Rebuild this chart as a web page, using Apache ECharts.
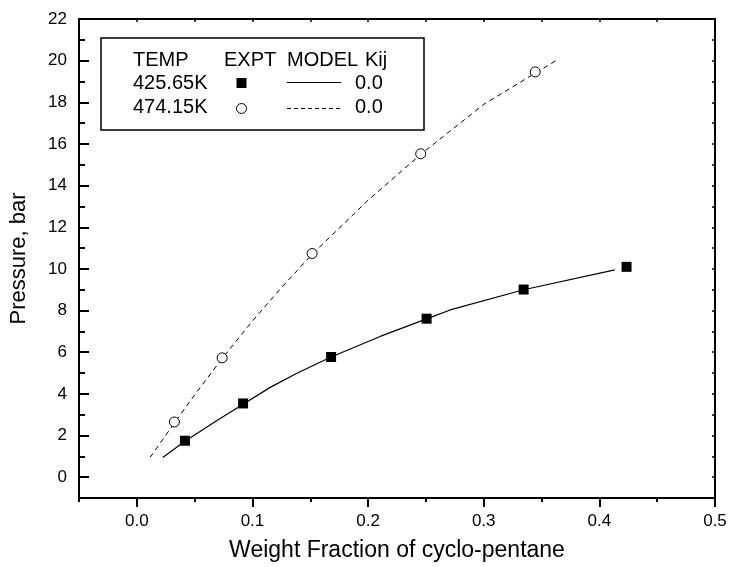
<!DOCTYPE html>
<html>
<head>
<meta charset="utf-8">
<title>Pressure vs weight fraction of cyclo-pentane</title>
<script src="https://cdn.jsdelivr.net/npm/echarts@6/dist/echarts.min.js"></script>
<style>
  html, body { margin: 0; padding: 0; background: #fff; }
  #chart { width: 730px; height: 567px; }
</style>
</head>
<body>
<div id="chart"></div>
<script>
// Tick positions
const xMajorTicks = [0, 0.1, 0.2, 0.3, 0.4, 0.5];
const xMinorTicks = [-0.05, 0.05, 0.15, 0.25, 0.35, 0.45];
const yMajorTicks = [0, 2, 4, 6, 8, 10, 12, 14, 16, 18, 20, 22];
const yMinorTicks = [1, 3, 5, 7, 9, 11, 13, 15, 17, 19, 21];

// Experimental points, 425.65 K
const exptX425 = [0.0416, 0.0919, 0.168, 0.2506, 0.3345, 0.4235];
const exptP425 = [1.75, 3.54, 5.77, 7.61, 9.01, 10.10];
// Experimental points, 474.15 K
const exptX474 = [0.0325, 0.0738, 0.1516, 0.2455, 0.3445];
const exptP474 = [2.65, 5.73, 10.74, 15.53, 19.46];

// Model curves (Kij = 0.0)
const modelX425 = [0.0224, 0.0416, 0.07, 0.0919, 0.115, 0.138, 0.168, 0.211, 0.2506, 0.271, 0.3345, 0.4134];
const modelP425 = [0.95, 1.72, 2.75, 3.5, 4.3, 4.98, 5.77, 6.77, 7.6, 8.03, 9.0, 9.95];
const modelX474 = [0.0115, 0.0325, 0.05, 0.0738, 0.10, 0.125, 0.1516, 0.2, 0.2455, 0.30, 0.3445, 0.3626];
const modelP474 = [0.95, 2.6, 3.95, 5.7, 7.5, 9.1, 10.7, 13.3, 15.5, 17.9, 19.4, 20.0];

const zip = (xs, ys) => xs.map((x, i) => [x, ys[i]]);

const FONT = '"Liberation Sans", Arial, Helvetica, sans-serif';
const X_MIN = -0.05, X_MAX = 0.5, Y_MIN = -1, Y_MAX = 22;

const chart = echarts.init(document.getElementById('chart'), null, { renderer: 'canvas' });

const hidden = { show: false };
const legendText = (text, x, y) => ({
  type: 'text', x, y,
  style: { text, font: '20px ' + FONT, fill: '#000', verticalAlign: 'middle' }
});

const option = {
  animation: false,
  backgroundColor: '#ffffff',
  grid: { left: 77, right: 15, top: 19, bottom: 69, containLabel: false },
  xAxis: [
    {
      type: 'value', position: 'bottom', min: X_MIN, max: X_MAX,
      name: 'Weight Fraction of cyclo-pentane',
      nameLocation: 'middle', nameGap: 41,
      nameTextStyle: { fontFamily: FONT, fontSize: 23, color: '#000' },
      axisLine: { show: true, onZero: false, lineStyle: { color: '#000', width: 2 } },
      axisTick: { show: true, inside: false, length: 9, lineStyle: { color: '#000', width: 2 }, customValues: xMajorTicks },
      axisLabel: {
        show: true, margin: 15, fontFamily: FONT, fontSize: 17, color: '#000',
        customValues: xMajorTicks, formatter: v => v.toFixed(1)
      },
      splitLine: hidden
    },
    {
      type: 'value', position: 'bottom', min: X_MIN, max: X_MAX,
      axisLine: { show: false, onZero: false },
      axisTick: { show: true, inside: false, length: 4, lineStyle: { color: '#000', width: 2 }, customValues: xMinorTicks },
      axisLabel: hidden, splitLine: hidden
    },
    {
      type: 'value', position: 'top', min: X_MIN, max: X_MAX,
      axisLine: { show: true, onZero: false, lineStyle: { color: '#000', width: 2 } },
      axisTick: { show: true, inside: true, length: 3, lineStyle: { color: '#000', width: 1.5 },
        customValues: xMinorTicks.concat(xMajorTicks) },
      axisLabel: hidden, splitLine: hidden
    }
  ],
  yAxis: [
    {
      type: 'value', position: 'left', min: Y_MIN, max: Y_MAX,
      name: 'Pressure, bar',
      nameLocation: 'middle', nameGap: 49,
      nameTextStyle: { fontFamily: FONT, fontSize: 22, color: '#000' },
      axisLine: { show: true, onZero: false, lineStyle: { color: '#000', width: 2 } },
      axisTick: { show: true, inside: true, length: 10, lineStyle: { color: '#000', width: 2 }, customValues: yMajorTicks },
      axisLabel: { show: true, margin: 12, fontFamily: FONT, fontSize: 17, color: '#000', customValues: yMajorTicks },
      splitLine: hidden
    },
    {
      type: 'value', position: 'left', min: Y_MIN, max: Y_MAX,
      axisLine: { show: false, onZero: false },
      axisTick: { show: true, inside: true, length: 6, lineStyle: { color: '#000', width: 2 }, customValues: yMinorTicks },
      axisLabel: hidden, splitLine: hidden
    },
    {
      type: 'value', position: 'right', min: Y_MIN, max: Y_MAX,
      axisLine: { show: true, onZero: false, lineStyle: { color: '#000', width: 2 } },
      axisTick: { show: true, inside: true, length: 3, lineStyle: { color: '#000', width: 1.5 },
        customValues: yMajorTicks.concat(yMinorTicks) },
      axisLabel: hidden, splitLine: hidden
    }
  ],
  series: [
    {
      name: 'model 425.65K', type: 'line', xAxisIndex: 0, yAxisIndex: 0,
      data: zip(modelX425, modelP425), showSymbol: false, symbol: 'none',
      lineStyle: { color: '#000', width: 1.2, type: 'solid' }, z: 2, silent: true
    },
    {
      name: 'model 474.15K', type: 'line', xAxisIndex: 0, yAxisIndex: 0,
      data: zip(modelX474, modelP474), showSymbol: false, symbol: 'none',
      lineStyle: { color: '#000', width: 1, type: [5, 4] }, z: 2, silent: true
    },
    {
      name: '425.65K', type: 'scatter', xAxisIndex: 0, yAxisIndex: 0,
      data: zip(exptX425, exptP425), symbol: 'rect', symbolSize: 10,
      itemStyle: { color: '#000', opacity: 1 }, z: 3
    },
    {
      name: '474.15K', type: 'scatter', xAxisIndex: 0, yAxisIndex: 0,
      data: zip(exptX474, exptP474), symbol: 'circle', symbolSize: 10,
      itemStyle: { color: '#fff', borderColor: '#000', borderWidth: 1, opacity: 1 }, z: 3
    }
  ],
  graphic: [
    {
      type: 'group', z: 10,
      children: [
        { type: 'rect', shape: { x: 101, y: 38, width: 323, height: 92 },
          style: { fill: '#fff', stroke: '#000', lineWidth: 1.5 } },
        legendText('TEMP', 133, 60),
        legendText('EXPT', 224, 60),
        legendText('MODEL', 287, 60),
        legendText('Kij', 365, 60),
        legendText('425.65K', 133, 83.5),
        legendText('474.15K', 133, 107.5),
        { type: 'rect', shape: { x: 236.5, y: 78, width: 10, height: 10 }, style: { fill: '#000' } },
        { type: 'circle', shape: { cx: 241.5, cy: 108.5, r: 5 }, style: { fill: '#fff', stroke: '#000', lineWidth: 1 } },
        { type: 'line', shape: { x1: 287, y1: 82.5, x2: 341, y2: 82.5 }, style: { stroke: '#000', lineWidth: 1.2 } },
        { type: 'line', shape: { x1: 287, y1: 108.5, x2: 341, y2: 108.5 }, style: { stroke: '#000', lineWidth: 1, lineDash: [4, 3] } },
        legendText('0.0', 355, 83.5),
        legendText('0.0', 355, 107.5)
      ]
    }
  ]
};

chart.setOption(option);
</script>
</body>
</html>
